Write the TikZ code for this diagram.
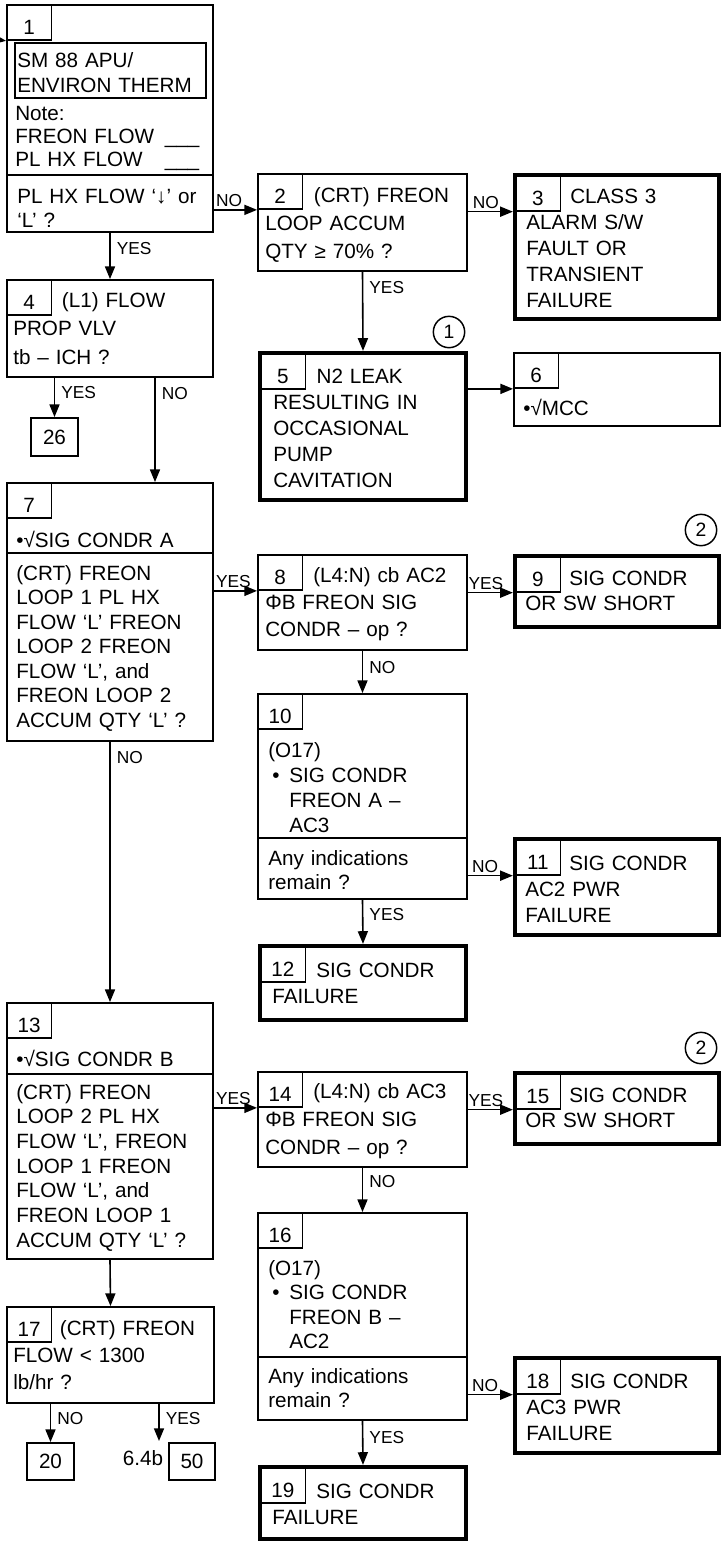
\documentclass[tikz,border=0pt]{standalone}
\usepackage{fontspec}
\setmainfont{Liberation Sans}
\usetikzlibrary{arrows.meta, positioning, fit, calc}

\begin{document}
\begin{tikzpicture}[
        x=0.75pt, y=-0.75pt,
        font=\fontsize{15.5}{19.5}\selectfont,
        box/.style={draw, line width=1.4pt, inner sep=0pt},
        endbox/.style={draw, line width=3.2pt, inner sep=0pt},
        goto/.style={box, label={[inner sep=0pt, text height=11pt, text depth=0pt]center:#1}},
        num/.style={draw, line width=1.1pt, anchor=north west, minimum width=33.5pt, minimum height=26.5pt, inner sep=0pt, text height=18pt, text depth=0pt},
        txt/.style={anchor=base west, inner sep=0pt, text width=152pt, align=left, font=\fontsize{15.5}{#1}\selectfont},
        txt/.default=19.5,
        lbl/.style={inner sep=1.5pt, font=\fontsize{13}{15}\selectfont},
        circled/.style={circle, draw, line width=1.1pt, minimum size=23.5pt, inner sep=0pt, font=\fontsize{14.5}{16}\selectfont},
        arrow/.style={-{Triangle[length=9.5pt, width=7.5pt]}, line width=1.2pt}
    ]
        \useasboundingbox (0,0) rectangle (727,1543);

        % left column
        \coordinate (entry) at (0,40);
        \node[box, fit={(7,5) (213,232)}] (q1) {};
        \node[num] (n1) at (q1.north west) {1};
        \node[draw, line width=1.1pt, inner sep=0pt, fit={(15,43) (206,98)}] (sm88) {};
        \node[txt=18.75] (t1a) at (17,67) {SM 88 APU/\\ENVIRON THERM};
        \node[txt=17.6, text width=138pt] (t1b) at (15,120) {Note:\\FREON FLOW\hfill\_\_\_\\PL HX FLOW\hfill\_\_\_};
        \draw[line width=1.4pt] (q1.west |- 0,175) -- (q1.east |- 0,175);
        \node[txt=18] (t1c) at (17,203) {PL HX FLOW ‘↓’ or\\‘L’ ?};

        \node[box, fit={(7,280) (213,377)}] (q4) {};
        \node[num] (n4) at (q4.north west) {4};
        \node[txt=21.5] (t4) at (13,307) {\hspace*{36.5pt}(L1) FLOW\\PROP VLV\\tb – ICH ?};
        \node[goto=26, fit={(31,418) (78,456)}] (q26) {};
        \coordinate (k4) at ($(q4.south)+(45,0)$);

        \node[box, fit={(7,483) (213,741)}] (q7) {};
        \node[num] (n7) at (q7.north west) {7};
        \node[txt] (t7a) at (16,547) {•√SIG CONDR A};
        \draw[line width=1.4pt] (q7.west |- 0,553) -- (q7.east |- 0,553);
        \node[txt=18.4] (t7b) at (16,580) {(CRT) FREON\\LOOP 1 PL HX\\FLOW ‘L’ FREON\\LOOP 2 FREON\\FLOW ‘L’, and\\FREON LOOP 2\\ACCUM QTY ‘L’ ?};

        \node[box, fit={(7,1003) (213,1259)}] (q13) {};
        \node[num] (n13) at (q13.north west) {13};
        \node[txt] (t13a) at (16,1066) {•√SIG CONDR B};
        \draw[line width=1.4pt] (q13.west |- 0,1074) -- (q13.east |- 0,1074);
        \node[txt=18.5] (t13b) at (16,1099) {(CRT) FREON\\LOOP 2 PL HX\\FLOW ‘L’, FREON\\LOOP 1 FREON\\FLOW ‘L’, and\\FREON LOOP 1\\ACCUM QTY ‘L’ ?};

        \node[box, fit={(7,1307) (214,1403)}] (q17) {};
        \node[num] (n17) at (q17.north west) {17};
        \node[txt=20.6] (t17) at (13,1335) {\hspace*{35pt}(CRT) FREON\\FLOW < 1300\\lb/hr ?};
        \node[goto=20, fit={(27,1443) (74,1480)}] (q20) {};
        \node[goto=50, fit={(169,1443) (215,1480)}] (q50) {};
        \node[anchor=base, inner sep=0pt] (sec) at (143,1465) {6.4b};
        \coordinate (go50) at (159,1441);

        % middle column
        \node[box, fit={(258,174) (467,271)}] (q2) {};
        \node[num] (n2) at (q2.north west) {2};
        \node[txt=21] (t2) at (265,202) {\hspace*{36.5pt}(CRT) FREON\\LOOP ACCUM\\QTY ≥ 70\% ?};

        \node[endbox, fit={(260,353) (466,500)}] (q5) {};
        \node[num] (n5) at ([shift={(2,2)}]q5.north west) {5};
        \node[txt] (t5) at (273,383) {\hspace*{32.5pt}N2 LEAK\\RESULTING IN\\OCCASIONAL\\PUMP\\CAVITATION};
        \node[circled] (c1) at (449,332) {1};

        \node[box, fit={(258,555) (467,650)}] (q8) {};
        \node[num] (n8) at (q8.north west) {8};
        \node[txt=20.6] (t8) at (265,582) {\hspace*{36pt}(L4:N) cb AC2\\ΦB FREON SIG\\CONDR – op ?};

        \node[box, fit={(258,694) (467,899)}] (q10) {};
        \node[num] (n10) at (q10.north west) {10};
        \node[txt=18.75] (t10a) at (268,757) {(O17)\\\makebox[15.75pt][l]{\hspace{3pt}•}SIG CONDR\\\hspace*{15.75pt}FREON A –\\\hspace*{15.75pt}AC3};
        \draw[line width=1.4pt] (q10.west |- 0,838) -- (q10.east |- 0,838);
        \node[txt=18] (t10b) at (268,865) {Any indications\\remain ?};

        \node[endbox, fit={(260,946) (466,1020)}] (q12) {};
        \node[num] (n12) at ([shift={(2,2)}]q12.north west) {12};
        \node[txt] (t12) at (272,977) {\hspace*{33pt}SIG CONDR\\FAILURE};

        \node[box, fit={(258,1072) (467,1167)}] (q14) {};
        \node[num] (n14) at (q14.north west) {14};
        \node[txt=21] (t14) at (265,1098) {\hspace*{36pt}(L4:N) cb AC3\\ΦB FREON SIG\\CONDR – op ?};

        \node[box, fit={(258,1213) (467,1420)}] (q16) {};
        \node[num] (n16) at (q16.north west) {16};
        \node[txt=18.4] (t16a) at (268,1275) {(O17)\\\makebox[15.75pt][l]{\hspace{3pt}•}SIG CONDR\\\hspace*{15.75pt}FREON B –\\\hspace*{15.75pt}AC2};
        \draw[line width=1.4pt] (q16.west |- 0,1357) -- (q16.east |- 0,1357);
        \node[txt=18] (t16b) at (268,1383) {Any indications\\remain ?};

        \node[endbox, fit={(260,1467) (466,1539)}] (q19) {};
        \node[num] (n19) at ([shift={(2,2)}]q19.north west) {19};
        \node[txt] (t19) at (272,1498) {\hspace*{33pt}SIG CONDR\\FAILURE};

        % right column
        \node[endbox, fit={(515,175) (719,319)}] (q3) {};
        \node[num] (n3) at ([shift={(2,2)}]q3.north west) {3};
        \node[txt] (t3) at (526,203) {\hspace*{33pt}CLASS 3\\ALARM S/W\\FAULT OR\\TRANSIENT\\FAILURE};

        \node[box, fit={(514,353) (720,426)}] (q6) {};
        \node[num] (n6) at (q6.north west) {6};
        \node[txt] (t6) at (523,415) {•√MCC};

        \node[endbox, fit={(515,556) (719,627)}] (q9) {};
        \node[num] (n9) at ([shift={(2,2)}]q9.north west) {9};
        \node[txt=18.75] (t9) at (525,585) {\hspace*{33pt}SIG CONDR\\OR SW SHORT};
        \node[circled] (c2a) at (701,530) {2};

        \node[endbox, fit={(515,839) (719,935)}] (q11) {};
        \node[num] (n11) at ([shift={(2,2)}]q11.north west) {11};
        \node[txt] (t11) at (525,870) {\hspace*{33pt}SIG CONDR\\AC2 PWR\\FAILURE};

        \node[endbox, fit={(515,1073) (719,1144)}] (q15) {};
        \node[num] (n15) at ([shift={(2,2)}]q15.north west) {15};
        \node[txt=18.75] (t15) at (525,1102) {\hspace*{33pt}SIG CONDR\\OR SW SHORT};
        \node[circled] (c2b) at (701,1048) {2};

        \node[endbox, fit={(515,1358) (719,1453)}] (q18) {};
        \node[num] (n18) at ([shift={(2,2)}]q18.north west) {18};
        \node[txt] (t18) at (526,1388) {\hspace*{33pt}SIG CONDR\\AC3 PWR\\FAILURE};

        % connectors
        \draw[arrow] (entry) -- (n1.south west);
        \draw[arrow] (n2.south west -| q1.east) -- node[lbl, above, pos=.35] {NO} (n2.south west);
        \draw[arrow] (n3.south west -| q2.east) -- node[lbl, above, pos=.4] {NO} (n3.south west -| q3.west);
        \draw[arrow] (q1.south) -- node[lbl, right=3pt, pos=.33] {YES} (q4.north);
        \draw[arrow] (q2.south) -- node[lbl, right=3pt, pos=.2] {YES} (q5.north);
        \draw[arrow] (n6.south west -| q5.east) -- (n6.south west);
        \draw[arrow] (q26.north |- q4.south) -- node[lbl, right=3pt, pos=.38] {YES} (q26.north);
        \draw[arrow] (k4) -- node[lbl, right=3pt, pos=.15] {NO} (k4 |- q7.north);
        \draw[arrow] (n8.south west -| q7.east) -- node[lbl, above, pos=.45] {YES} (n8.south west);
        \draw[arrow] (n9.south west -| q8.east) -- node[lbl, above, pos=.4] {YES} (n9.south west -| q9.west);
        \draw[arrow] (q8.south) -- node[lbl, right=3pt, pos=.4] {NO} (q10.north);
        \draw[arrow] (n11.south west -| q10.east) -- node[lbl, above, pos=.38] {NO} (n11.south west -| q11.west);
        \draw[arrow] (q10.south) -- node[lbl, right=3pt, pos=.34] {YES} (q12.north);
        \draw[arrow] (q7.south) -- node[lbl, right=3pt, pos=.06] {NO} (q13.north);
        \draw[arrow] (n14.south west -| q13.east) -- node[lbl, above, pos=.45] {YES} (n14.south west);
        \draw[arrow] (n15.south west -| q14.east) -- node[lbl, above, pos=.4] {YES} (n15.south west -| q15.west);
        \draw[arrow] (q14.south) -- node[lbl, right=3pt, pos=.3] {NO} (q16.north);
        \draw[arrow] (n18.south west -| q16.east) -- node[lbl, above, pos=.38] {NO} (n18.south west -| q18.west);
        \draw[arrow] (q16.south) -- node[lbl, right=3pt, pos=.37] {YES} (q19.north);
        \draw[arrow] (q13.south) -- (q17.north);
        \draw[arrow] (q20.north |- q17.south) -- node[lbl, right=3pt, pos=.38] {NO} (q20.north);
        \draw[arrow] (go50 |- q17.south) -- node[lbl, right=3pt, pos=.38] {YES} (go50);
    \end{tikzpicture}
\end{document}
